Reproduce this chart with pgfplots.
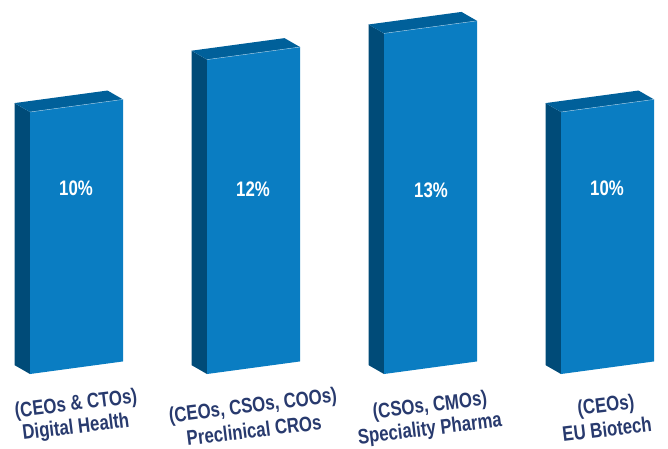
\documentclass[border=0pt]{standalone}
\usepackage{fontspec}
\setmainfont{Liberation Sans}[FakeStretch=0.8]
\usepackage{pgfplots}
\pgfplotsset{compat=1.18}
\definecolor{front}{HTML}{0A7DC2}
\definecolor{side}{HTML}{004B78}
\definecolor{topc}{HTML}{00609A}
\definecolor{navy}{HTML}{283A6E}
\begin{document}
\begin{tikzpicture}
\begin{axis}[scale only axis, width=668pt, height=448pt,
  xmin=0, xmax=668, ymin=-2.824, ymax=14.275, hide axis, clip=false]
% Bar 1: Digital Health 10
\addplot[fill=side, draw=none] coordinates {(14.5,0.34) (30,0) (30,10) (14.5,10.34)};
\addplot[fill=front, draw=none] coordinates {(30,0) (123,0.48) (123,10.48) (30,10)};
\addplot[fill=topc, draw=none] coordinates {(30,10) (123,10.48) (107.5,10.82) (14.5,10.34)};
\addplot[draw=front!40!white, line width=0.4pt] coordinates {(30,10) (123,10.48)};
% Bar 2: Preclinical CROs 12
\addplot[fill=side, draw=none] coordinates {(191.5,0.34) (207,0) (207,12) (191.5,12.34)};
\addplot[fill=front, draw=none] coordinates {(207,0) (300,0.48) (300,12.48) (207,12)};
\addplot[fill=topc, draw=none] coordinates {(207,12) (300,12.48) (284.5,12.82) (191.5,12.34)};
\addplot[draw=front!40!white, line width=0.4pt] coordinates {(207,12) (300,12.48)};
% Bar 3: Speciality Pharma 13
\addplot[fill=side, draw=none] coordinates {(368.5,0.34) (384,0) (384,13) (368.5,13.34)};
\addplot[fill=front, draw=none] coordinates {(384,0) (477,0.48) (477,13.48) (384,13)};
\addplot[fill=topc, draw=none] coordinates {(384,13) (477,13.48) (461.5,13.82) (368.5,13.34)};
\addplot[draw=front!40!white, line width=0.4pt] coordinates {(384,13) (477,13.48)};
% Bar 4: EU Biotech 10
\addplot[fill=side, draw=none] coordinates {(545.5,0.34) (561,0) (561,10) (545.5,10.34)};
\addplot[fill=front, draw=none] coordinates {(561,0) (654,0.48) (654,10.48) (561,10)};
\addplot[fill=topc, draw=none] coordinates {(561,10) (654,10.48) (638.5,10.82) (545.5,10.34)};
\addplot[draw=front!40!white, line width=0.4pt] coordinates {(561,10) (654,10.48)};

\tikzset{val/.style={text=white, font=\fontsize{21}{23}\selectfont\bfseries},
  lab/.style={text=navy, font=\fontsize{21}{25}\selectfont\bfseries, inner sep=0pt, rotate=7}}
\node[val] at (axis cs:76,7.1) {10\%};
\node[val] at (axis cs:253,7.05) {12\%};
\node[val] at (axis cs:431,7.02) {13\%};
\node[val] at (axis cs:607,7.1) {10\%};

\node[lab] at (axis cs:76,-1.18) {(CEOs \& CTOs)};
\node[lab] at (axis cs:76,-2.06) {Digital Health};
\node[lab] at (axis cs:253,-1.26) {(CEOs, CSOs, COOs)};
\node[lab] at (axis cs:254,-2.14) {Preclinical CROs};
\node[lab] at (axis cs:430,-1.24) {(CSOs, CMOs)};
\node[lab] at (axis cs:430,-2.14) {Speciality Pharma};
\node[lab] at (axis cs:606,-1.24) {(CEOs)};
\node[lab] at (axis cs:607,-2.10) {EU Biotech};
\end{axis}
\pgfresetboundingbox
\path (0,0) rectangle (668pt,448pt);
\end{tikzpicture}
\end{document}
